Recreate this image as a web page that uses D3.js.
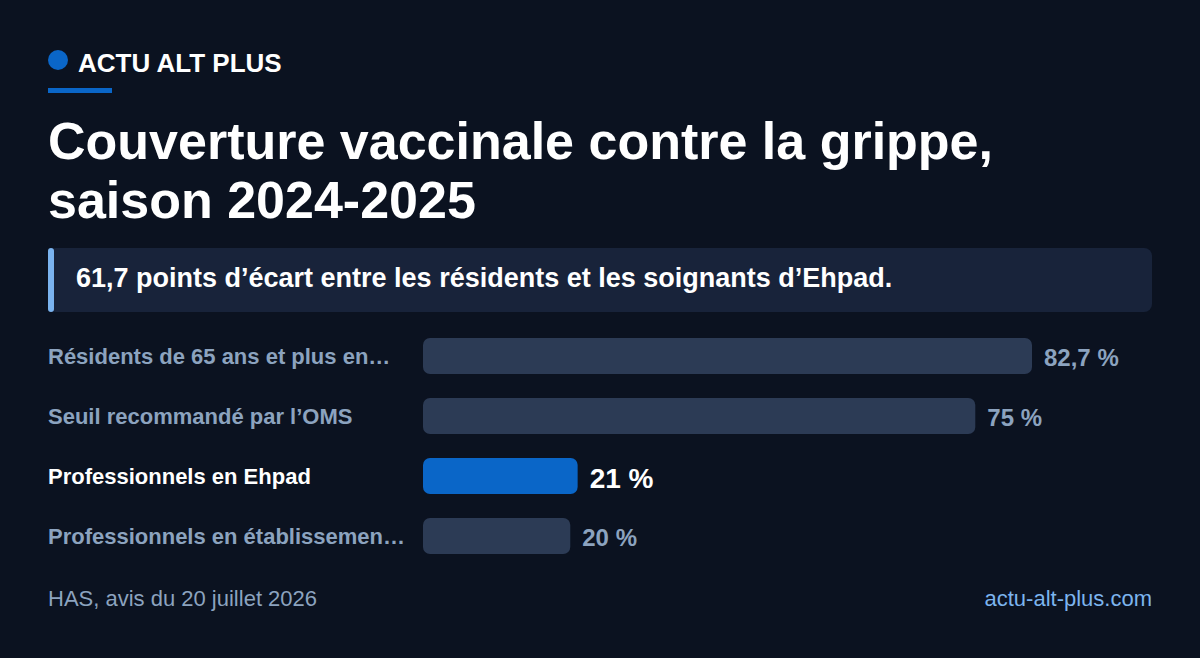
<!DOCTYPE html>
<html><head><meta charset="utf-8">
<script src="https://cdn.jsdelivr.net/npm/d3@7"></script>
<style>html,body{margin:0;padding:0;background:#0b1220;}svg{display:block;}</style>
</head><body>
<div id="chart"></div>
<script>
const categories = ["Résidents de 65 ans et plus en…", "Seuil recommandé par l’OMS", "Professionnels en Ehpad", "Professionnels en établissemen…"];
const values = [82.7, 75, 21, 20];
const valueLabels = ["82,7 %", "75 %", "21 %", "20 %"];
const highlight = [false, false, true, false];

const W = 1200, H = 658;
const FONT = "'Liberation Sans', Arial, Helvetica, sans-serif";
const svg = d3.select("#chart").append("svg").attr("width", W).attr("height", H);
svg.append("rect").attr("width", W).attr("height", H).attr("fill", "#0b1220");

// brand
svg.append("circle").attr("cx", 58).attr("cy", 60).attr("r", 10).attr("fill", "#0a66c8");
svg.append("text").attr("x", 78).attr("y", 72).attr("fill", "#ffffff")
  .attr("font-family", FONT).attr("font-weight", 700).attr("font-size", 26).text("ACTU ALT PLUS");
svg.append("rect").attr("x", 48).attr("y", 88).attr("width", 64).attr("height", 5).attr("fill", "#0a66c8");

// title
const title = svg.append("text").attr("fill", "#ffffff").attr("font-family", FONT)
  .attr("font-weight", 700).attr("font-size", 52);
title.append("tspan").attr("x", 48).attr("y", 159).text("Couverture vaccinale contre la grippe,");
title.append("tspan").attr("x", 48).attr("y", 218).text("saison 2024-2025");

// callout
svg.append("rect").attr("x", 48).attr("y", 248).attr("width", 1104).attr("height", 64).attr("rx", 8).attr("fill", "#18233a");
svg.append("rect").attr("x", 48).attr("y", 248).attr("width", 6).attr("height", 64).attr("rx", 3).attr("fill", "#7ab3ef");
svg.append("text").attr("x", 76).attr("y", 287).attr("fill", "#ffffff").attr("font-family", FONT)
  .attr("font-weight", 700).attr("font-size", 27).text("61,7 points d’écart entre les résidents et les soignants d’Ehpad.");

// bars
const x = d3.scaleLinear().domain([0, d3.max(values)]).range([423, 1032]);
const yStep = 60, barH = 36;
const rows = svg.append("g").selectAll("g").data(categories).join("g")
  .attr("transform", (d, i) => `translate(0,${338 + i * yStep})`);
rows.append("rect").attr("x", x(0)).attr("y", 0)
  .attr("width", (d, i) => x(values[i]) - x(0)).attr("height", barH).attr("rx", 7)
  .attr("fill", (d, i) => highlight[i] ? "#0a66c8" : "#2c3b55");
rows.append("text").attr("x", 48).attr("y", barH / 2).attr("dy", "0.35em")
  .attr("font-family", FONT).attr("font-weight", 700).attr("font-size", 22)
  .attr("fill", (d, i) => highlight[i] ? "#ffffff" : "#8ca3bf").text(d => d);
rows.append("text").attr("x", (d, i) => x(values[i]) + 12).attr("y", barH / 2 + 2).attr("dy", "0.35em")
  .attr("font-family", FONT).attr("font-weight", 700)
  .attr("font-size", (d, i) => highlight[i] ? 28 : 24)
  .attr("fill", (d, i) => highlight[i] ? "#ffffff" : "#8ca3bf").text((d, i) => valueLabels[i]);

// footer
svg.append("text").attr("x", 48).attr("y", 606).attr("fill", "#8ca3bf").attr("font-family", FONT)
  .attr("font-size", 22).text("HAS, avis du 20 juillet 2026");
svg.append("text").attr("x", 1152).attr("y", 606).attr("text-anchor", "end").attr("fill", "#7cb4ee").attr("font-family", FONT)
  .attr("font-size", 22).text("actu-alt-plus.com");
</script>
</body></html>
